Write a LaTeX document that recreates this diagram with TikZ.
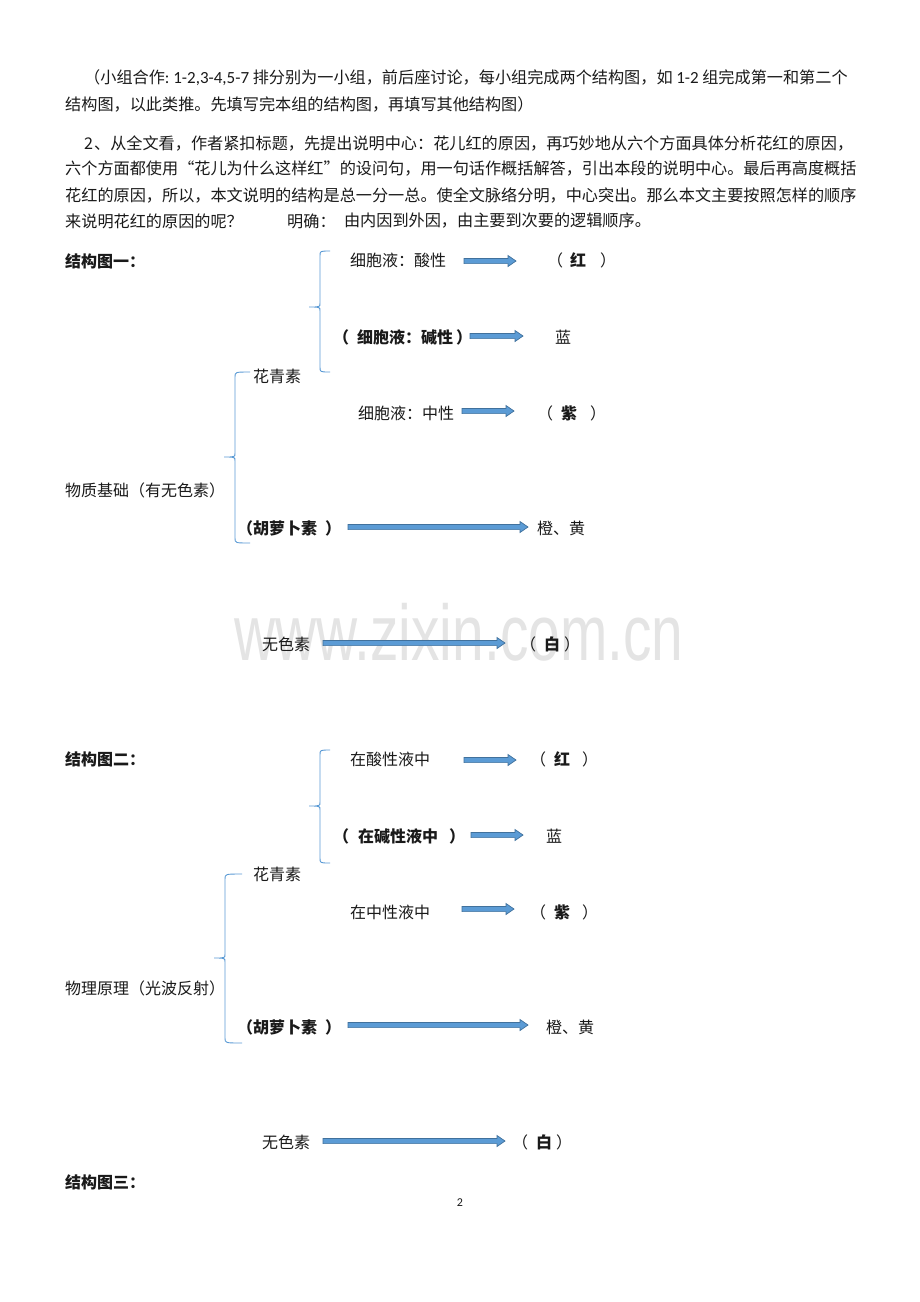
\documentclass[tikz,border=0pt]{standalone}
\usepackage{fontspec}
\newfontfamily\cjk{Noto Sans CJK SC}
\newfontfamily\lat{Carlito}
\newfontfamily\wmfont{Liberation Sans}
\usetikzlibrary{calc,positioning}
\definecolor{arrowfill}{HTML}{5B9BD5}
\definecolor{arrowline}{HTML}{41719C}
\definecolor{bracecol}{HTML}{5B9BD5}
\definecolor{wmgray}{HTML}{E4E4E4}
\definecolor{txtcol}{HTML}{1A1A1A}

% block arrow between two named coordinates
\newcommand{\blockarrow}[2]{%
  \filldraw[barrow] let \p1=(#1), \p2=(#2) in
    (\x1,\y1+2.6pt) -- (\x2-8pt,\y1+2.6pt) -- (\x2-8pt,\y1+5.5pt) -- (\x2,\y1)
    -- (\x2-8pt,\y1-5.5pt) -- (\x2-8pt,\y1-2.6pt) -- (\x1,\y1-2.6pt) -- cycle;}
% brace: x, top, tip, bottom, arm
\newcommand{\wordbrace}[5]{%
  \draw[bracepath] ({#1+#5},#2) .. controls (#1,#2) .. (#1,{#2+5}) -- (#1,{#3-4})
    .. controls (#1,#3) .. ({#1-11},#3) .. controls (#1,#3) .. (#1,{#3+4})
    -- (#1,{#4-5}) .. controls (#1,#4) .. ({#1+#5},#4);}

\begin{document}
\begin{tikzpicture}[x=1pt, y=-1pt,
                every node/.append style={inner sep=0pt, anchor=west, text=txtcol,
                  font=\cjk\fontsize{16}{19}\selectfont},
                para/.style={font=\cjk\fontsize{16.15}{19}\selectfont},
                hd/.style={font=\cjk\bfseries\fontsize{16}{19}\selectfont},
                barrow/.style={fill=arrowfill, draw=arrowline, line width=0.7pt},
                bracepath/.style={draw=bracecol, line width=0.9pt}]

\fill[white] (0,0) rectangle (920,1302);
\useasboundingbox (0,0) rectangle (920,1302);

% watermark
\node[anchor=center, text=wmgray] (wm) at (459,632)
  {\scalebox{0.72}[1]{\wmfont\fontsize{79}{79}\selectfont www.zixin.com.cn}};

% text above the diagrams
\node[para] (p1) at (84,78) {（小组合作{\lat\fontsize{17}{19}\selectfont:\ 1-2,3-4,5-7} 排分别为一小组，前后座讨论，每小组完成两个结构图，如 {\lat\fontsize{17}{19}\selectfont 1-2} 组完成第一和第二个};
\node[para] (p2) at (65,104) {结构图，以此类推。先填写完本组的结构图，再填写其他结构图）};
\node[para] (p3) at (84,143) {2\hspace{1pt}、从全文看，作者紧扣标题，先提出说明中心：花儿红的原因，再巧妙地从六个方面具体分析花红的原因，};
\node[para] (p4) at (65,169) {六个方面都使用“花儿为什么这样红”的设问句，用一句话作概括解答，引出本段的说明中心。最后再高度概括};
\node[para] (p5) at (65,195) {花红的原因，所以，本文说明的结构是总一分一总。使全文脉络分明，中心突出。那么本文主要按照怎样的顺序};
\node[para] (p6) at (65,221) {来说明花红的原因的呢？};
\node[para] (ans) at (287,221) {明确：};
\node[para, right=8pt of ans] (ans2) {由内因到外因，由主要到次要的逻辑顺序。};

% structure 1
\node[hd] (t1) at (65,261) {结构图一：};
\node (n1a) at (350,260) {细胞液：酸性};
\node (r1a) at (547,260) {（\hspace{7pt}{\bfseries 红}\hspace{14pt}）};
\node[hd] (n1b) at (333,337) {（\hspace{8pt}细胞液：碱性\hspace{3pt}）};
\node (r1b) at (555,337) {蓝};
\node (n1h) at (253,376) {花青素};
\node (n1c) at (358,413) {细胞液：中性};
\node (r1c) at (537,413) {（\hspace{8pt}{\bfseries 紫}\hspace{13pt}）};
\node (n1r) at (65,490) {物质基础（有无色素）};
\node[hd] (n1d) at (237,528) {（胡萝卜素\hspace{8pt}）};
\node (r1d) at (537,528) {橙、黄};
\node (n1w) at (262,644) {无色素};
\node (r1w) at (520,644) {（\hspace{8pt}{\bfseries 白}\hspace{4pt}）};

\coordinate (a1s) at (464,261); \coordinate (a1e) at (516,261);
\coordinate (b1s) at (470,336); \coordinate (b1e) at (523,336);
\coordinate (c1s) at (462,411); \coordinate (c1e) at (514,411);
\coordinate (d1s) at (348,527); \coordinate (d1e) at (528,527);
\coordinate (w1s) at (323,643); \coordinate (w1e) at (505,643);
\blockarrow{a1s}{a1e}
\blockarrow{b1s}{b1e}
\blockarrow{c1s}{c1e}
\blockarrow{d1s}{d1e}
\blockarrow{w1s}{w1e}

\wordbrace{320}{251}{307}{372}{10}
\wordbrace{235}{372}{457}{543}{15}

% structure 2
\node[hd] (t2) at (65,759) {结构图二：};
\node (n2a) at (350,759) {在酸性液中};
\node (r2a) at (530,759) {（\hspace{8pt}{\bfseries 红}\hspace{12pt}）};
\node[hd] (n2b) at (333,836) {（\hspace{9pt}在碱性液中\hspace{11pt}）};
\node (r2b) at (546,836) {蓝};
\node (n2h) at (253,874) {花青素};
\node (n2c) at (350,912) {在中性液中};
\node (r2c) at (530,912) {（\hspace{8pt}{\bfseries 紫}\hspace{12pt}）};
\node (n2r) at (65,988) {物理原理（光波反射）};
\node[hd] (n2d) at (237,1027) {（胡萝卜素\hspace{8pt}）};
\node (r2d) at (546,1027) {橙、黄};
\node (n2w) at (262,1142) {无色素};
\node (r2w) at (512,1142) {（\hspace{8pt}{\bfseries 白}\hspace{4pt}）};

\coordinate (a2s) at (464,760); \coordinate (a2e) at (516,760);
\coordinate (b2s) at (471,835); \coordinate (b2e) at (523,835);
\coordinate (c2s) at (462,909); \coordinate (c2e) at (514,909);
\coordinate (d2s) at (348,1025); \coordinate (d2e) at (528,1025);
\coordinate (w2s) at (323,1141); \coordinate (w2e) at (505,1141);
\blockarrow{a2s}{a2e}
\blockarrow{b2s}{b2e}
\blockarrow{c2s}{c2e}
\blockarrow{d2s}{d2e}
\blockarrow{w2s}{w2e}

\wordbrace{320}{750}{806}{863}{10}
\wordbrace{225}{874}{958}{1043}{17}

\node[hd] (t3) at (65,1182) {结构图三：};
\node[anchor=center, font=\lat\fontsize{12}{14}\selectfont] (pg) at (460,1203) {2};

\end{tikzpicture}
\end{document}
